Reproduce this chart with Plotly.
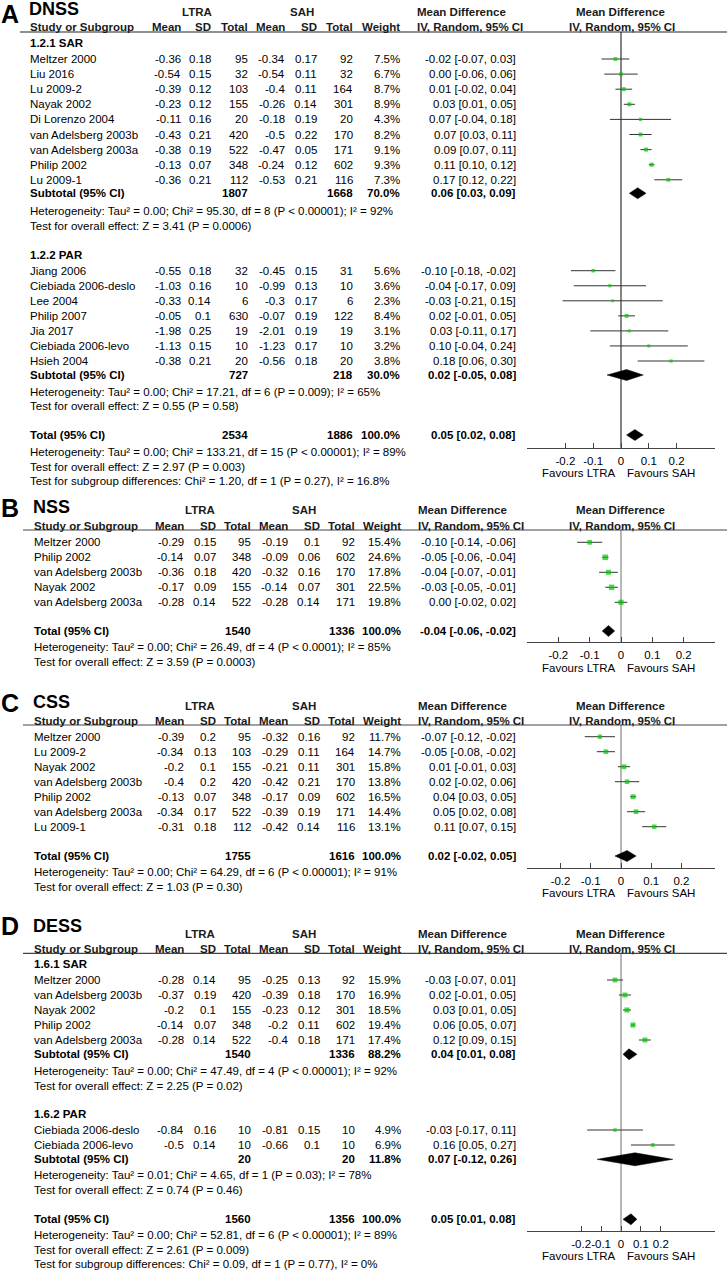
import plotly.graph_objects as go

# ======================= DATA =======================
# ---- Panel A : DNSS ----
A1_study = ["Meltzer 2000", "Liu 2016", "Lu 2009-2", "Nayak 2002", "Di Lorenzo 2004",
            "van Adelsberg 2003b", "van Adelsberg 2003a", "Philip 2002", "Lu 2009-1"]
A1_mean_l = [-0.36, -0.54, -0.39, -0.23, -0.11, -0.43, -0.38, -0.13, -0.36]
A1_sd_l = [0.18, 0.15, 0.12, 0.12, 0.16, 0.21, 0.19, 0.07, 0.21]
A1_n_l = [95, 32, 103, 155, 20, 420, 522, 348, 112]
A1_mean_s = [-0.34, -0.54, -0.4, -0.26, -0.18, -0.5, -0.47, -0.24, -0.53]
A1_sd_s = [0.17, 0.11, 0.11, 0.14, 0.19, 0.22, 0.05, 0.12, 0.21]
A1_n_s = [92, 32, 164, 301, 20, 170, 171, 602, 116]
A1_weight = [7.5, 6.7, 8.7, 8.9, 4.3, 8.2, 9.1, 9.3, 7.3]
A1_md = [-0.02, 0.00, 0.01, 0.03, 0.07, 0.07, 0.09, 0.11, 0.17]
A1_lo = [-0.07, -0.06, -0.02, 0.01, -0.04, 0.03, 0.07, 0.10, 0.12]
A1_hi = [0.03, 0.06, 0.04, 0.05, 0.18, 0.11, 0.11, 0.12, 0.22]
A1_sub = [1807, 1668, 70.0, 0.06, 0.03, 0.09]
A1_het = "Heterogeneity: Tau² = 0.00; Chi² = 95.30, df = 8 (P < 0.00001); I² = 92%"
A1_test = "Test for overall effect: Z = 3.41 (P = 0.0006)"

A2_study = ["Jiang 2006", "Ciebiada 2006-deslo", "Lee 2004", "Philip 2007", "Jia 2017",
            "Ciebiada 2006-levo", "Hsieh 2004"]
A2_mean_l = [-0.55, -1.03, -0.33, -0.05, -1.98, -1.13, -0.38]
A2_sd_l = [0.18, 0.16, 0.14, 0.1, 0.25, 0.15, 0.21]
A2_n_l = [32, 10, 6, 630, 19, 10, 20]
A2_mean_s = [-0.45, -0.99, -0.3, -0.07, -2.01, -1.23, -0.56]
A2_sd_s = [0.15, 0.13, 0.17, 0.19, 0.19, 0.17, 0.18]
A2_n_s = [31, 10, 6, 122, 19, 10, 20]
A2_weight = [5.6, 3.6, 2.3, 8.4, 3.1, 3.2, 3.8]
A2_md = [-0.10, -0.04, -0.03, 0.02, 0.03, 0.10, 0.18]
A2_lo = [-0.18, -0.17, -0.21, -0.01, -0.11, -0.04, 0.06]
A2_hi = [-0.02, 0.09, 0.15, 0.05, 0.17, 0.24, 0.30]
A2_sub = [727, 218, 30.0, 0.02, -0.05, 0.08]
A2_het = "Heterogeneity: Tau² = 0.00; Chi² = 17.21, df = 6 (P = 0.009); I² = 65%"
A2_test = "Test for overall effect: Z = 0.55 (P = 0.58)"

A_total = [2534, 1886, 100.0, 0.05, 0.02, 0.08]
A_het = "Heterogeneity: Tau² = 0.00; Chi² = 133.21, df = 15 (P < 0.00001); I² = 89%"
A_test = "Test for overall effect: Z = 2.97 (P = 0.003)"
A_subdiff = "Test for subgroup differences: Chi² = 1.20, df = 1 (P = 0.27), I² = 16.8%"

# ---- Panel B : NSS ----
B_study = ["Meltzer 2000", "Philip 2002", "van Adelsberg 2003b", "Nayak 2002", "van Adelsberg 2003a"]
B_mean_l = [-0.29, -0.14, -0.36, -0.17, -0.28]
B_sd_l = [0.15, 0.07, 0.18, 0.09, 0.14]
B_n_l = [95, 348, 420, 155, 522]
B_mean_s = [-0.19, -0.09, -0.32, -0.14, -0.28]
B_sd_s = [0.1, 0.06, 0.16, 0.07, 0.14]
B_n_s = [92, 602, 170, 301, 171]
B_weight = [15.4, 24.6, 17.8, 22.5, 19.8]
B_md = [-0.10, -0.05, -0.04, -0.03, 0.00]
B_lo = [-0.14, -0.06, -0.07, -0.05, -0.02]
B_hi = [-0.06, -0.04, -0.01, -0.01, 0.02]
B_total = [1540, 1336, 100.0, -0.04, -0.06, -0.02]
B_het = "Heterogeneity: Tau² = 0.00; Chi² = 26.49, df = 4 (P < 0.0001); I² = 85%"
B_test = "Test for overall effect: Z = 3.59 (P = 0.0003)"

# ---- Panel C : CSS ----
C_study = ["Meltzer 2000", "Lu 2009-2", "Nayak 2002", "van Adelsberg 2003b", "Philip 2002",
           "van Adelsberg 2003a", "Lu 2009-1"]
C_mean_l = [-0.39, -0.34, -0.2, -0.4, -0.13, -0.34, -0.31]
C_sd_l = [0.2, 0.13, 0.1, 0.2, 0.07, 0.17, 0.18]
C_n_l = [95, 103, 155, 420, 348, 522, 112]
C_mean_s = [-0.32, -0.29, -0.21, -0.42, -0.17, -0.39, -0.42]
C_sd_s = [0.16, 0.11, 0.11, 0.21, 0.09, 0.19, 0.14]
C_n_s = [92, 164, 301, 170, 602, 171, 116]
C_weight = [11.7, 14.7, 15.8, 13.8, 16.5, 14.4, 13.1]
C_md = [-0.07, -0.05, 0.01, 0.02, 0.04, 0.05, 0.11]
C_lo = [-0.12, -0.08, -0.01, -0.02, 0.03, 0.02, 0.07]
C_hi = [-0.02, -0.02, 0.03, 0.06, 0.05, 0.08, 0.15]
C_total = [1755, 1616, 100.0, 0.02, -0.02, 0.05]
C_het = "Heterogeneity: Tau² = 0.00; Chi² = 64.29, df = 6 (P < 0.00001); I² = 91%"
C_test = "Test for overall effect: Z = 1.03 (P = 0.30)"

# ---- Panel D : DESS ----
D1_study = ["Meltzer 2000", "van Adelsberg 2003b", "Nayak 2002", "Philip 2002", "van Adelsberg 2003a"]
D1_mean_l = [-0.28, -0.37, -0.2, -0.14, -0.28]
D1_sd_l = [0.14, 0.19, 0.1, 0.07, 0.14]
D1_n_l = [95, 420, 155, 348, 522]
D1_mean_s = [-0.25, -0.39, -0.23, -0.2, -0.4]
D1_sd_s = [0.13, 0.18, 0.12, 0.11, 0.18]
D1_n_s = [92, 170, 301, 602, 171]
D1_weight = [15.9, 16.9, 18.5, 19.4, 17.4]
D1_md = [-0.03, 0.02, 0.03, 0.06, 0.12]
D1_lo = [-0.07, -0.01, 0.01, 0.05, 0.09]
D1_hi = [0.01, 0.05, 0.05, 0.07, 0.15]
D1_sub = [1540, 1336, 88.2, 0.04, 0.01, 0.08]
D1_het = "Heterogeneity: Tau² = 0.00; Chi² = 47.49, df = 4 (P < 0.00001); I² = 92%"
D1_test = "Test for overall effect: Z = 2.25 (P = 0.02)"

D2_study = ["Ciebiada 2006-deslo", "Ciebiada 2006-levo"]
D2_mean_l = [-0.84, -0.5]
D2_sd_l = [0.16, 0.14]
D2_n_l = [10, 10]
D2_mean_s = [-0.81, -0.66]
D2_sd_s = [0.15, 0.1]
D2_n_s = [10, 10]
D2_weight = [4.9, 6.9]
D2_md = [-0.03, 0.16]
D2_lo = [-0.17, 0.05]
D2_hi = [0.11, 0.27]
D2_sub = [20, 20, 11.8, 0.07, -0.12, 0.26]
D2_het = "Heterogeneity: Tau² = 0.01; Chi² = 4.65, df = 1 (P = 0.03); I² = 78%"
D2_test = "Test for overall effect: Z = 0.74 (P = 0.46)"

D_total = [1560, 1356, 100.0, 0.05, 0.01, 0.08]
D_het = "Heterogeneity: Tau² = 0.00; Chi² = 52.81, df = 6 (P < 0.00001); I² = 89%"
D_test = "Test for overall effect: Z = 2.61 (P = 0.009)"
D_subdiff = "Test for subgroup differences: Chi² = 0.09, df = 1 (P = 0.77), I² = 0%"

TICK_VALS = [-0.2, -0.1, 0, 0.1, 0.2]
TICK_TEXT = ["-0.2", "-0.1", "0", "0.1", "0.2"]

# ======================= LAYOUT HELPERS =======================
W, H = 727, 1270
FONT = "Liberation Sans, Arial, Helvetica, sans-serif"
FS = 11.5
GREEN = "#00c800"
HDR = "#1a1a1a"

fig = go.Figure()
ann = []
shapes = []


def txt(x, y, s, anchor="left", bold=False, size=FS, color="#000", xref="paper", xshift=0):
    if bold:
        s = f"<b>{s}</b>"
    ann.append(dict(x=(x / W if xref == "paper" else x), xref=xref, y=y, yref="y", text=s,
                    showarrow=False, xanchor=anchor, yanchor="middle", xshift=xshift,
                    borderpad=0, font=dict(size=size, color=color, family=FONT)))


COLS_A = dict(study=29, ml=182, sl=212, nl=249, ms=286, ss=318, ns=354, w=401,
              mdh=416, md=517, lt=197, sa=302, line_x0=20)
COLS_O = dict(study=33, ml=185, sl=216.5, nl=252, ms=288.7, ss=320.5, ns=356, w=402,
              mdh=416.5, md=517, lt=200, sa=304, line_x0=23)

PLOT_L, PLOT_R = 527, 715


def mdfmt(md, lo, hi):
    return f"{md:.2f} [{lo:.2f}, {hi:.2f}]"


class Forest:
    def __init__(self, axis):
        self.axis = axis
        self.cx, self.cy = [], []
        self.px, self.py, self.ps = [], [], []
        self.diamonds = []


def header(c, letter, title, y_letter, y_title, y_grp, y_hdr, y_line, line_col):
    txt(0, y_letter, letter, bold=True, size=25)
    txt(c["study"] - 1, y_title, title, bold=True, size=18)
    txt(c["lt"], y_grp, "LTRA", "center", True, color=HDR)
    txt(c["sa"], y_grp, "SAH", "center", True, color=HDR)
    txt(c["mdh"], y_grp, "Mean Difference", "left", True, color=HDR)
    txt(620, y_grp, "Mean Difference", "center", True, color=HDR)
    txt(c["study"], y_hdr, "Study or Subgroup", "left", True, color=HDR)
    for key, lab in [("ml", "Mean"), ("sl", "SD"), ("nl", "Total"), ("ms", "Mean"),
                     ("ss", "SD"), ("ns", "Total"), ("w", "Weight")]:
        txt(c[key], y_hdr, lab, "right", True, color=HDR)
    txt(c["mdh"], y_hdr, "IV, Random, 95% CI", "left", True, color=HDR)
    txt(622, y_hdr, "IV, Random, 95% CI", "center", True, color=HDR)
    shapes.append(dict(type="line", xref="paper", yref="y", x0=c["line_x0"] / W, x1=1,
                       y0=y_line, y1=y_line, line=dict(color=line_col, width=1.2)))


def studies(c, f, ys, study, ml, sl, nl, ms, ss, ns, w, md, lo, hi):
    for i, y in enumerate(ys):
        txt(c["study"], y, study[i])
        txt(c["ml"], y, f"{ml[i]:g}", "right")
        txt(c["sl"], y, f"{sl[i]:g}", "right")
        txt(c["nl"], y, f"{nl[i]}", "right")
        txt(c["ms"], y, f"{ms[i]:g}", "right")
        txt(c["ss"], y, f"{ss[i]:g}", "right")
        txt(c["ns"], y, f"{ns[i]}", "right")
        txt(c["w"], y, f"{w[i]:.1f}%", "right")
        txt(c["md"], y, mdfmt(md[i], lo[i], hi[i]), "right")
        f.cx += [lo[i], hi[i], None]
        f.cy += [y, y, None]
        f.px.append(md[i])
        f.py.append(y)
        f.ps.append(1.6 + 0.8 * w[i] ** 0.5)


def summary(c, f, y, label, vals, half=5.5):
    nl, ns, w, md, lo, hi = vals
    txt(c["study"], y, label, bold=True)
    txt(c["nl"], y, f"{nl}", "right", True)
    txt(c["ns"], y, f"{ns}", "right", True)
    txt(c["w"], y, f"{w:.1f}%", "right", True)
    txt(c["md"], y, mdfmt(md, lo, hi), "right", True)
    f.diamonds.append((lo, md, hi, y, half))


def finish(f, y_top, y_axis, zero_col):
    ax = f.axis
    fig.add_trace(go.Scatter(x=[0, 0], y=[y_top, y_axis], mode="lines", xaxis=ax, yaxis="y",
                             line=dict(color=zero_col, width=1.2), hoverinfo="skip", showlegend=False))
    fig.add_trace(go.Scatter(x=f.cx, y=f.cy, mode="lines", xaxis=ax, yaxis="y",
                             line=dict(color="#333", width=1), hoverinfo="skip", showlegend=False))
    fig.add_trace(go.Scatter(x=f.px, y=f.py, mode="markers", xaxis=ax, yaxis="y",
                             marker=dict(symbol="square", size=f.ps, color=GREEN, line=dict(width=0)),
                             hoverinfo="skip", showlegend=False))
    for lo, md, hi, y, h in f.diamonds:
        fig.add_trace(go.Scatter(x=[lo, md, hi, md, lo], y=[y, y - h, y, y + h, y], mode="lines",
                                 fill="toself", fillcolor="#000", line=dict(color="#000", width=0.5),
                                 xaxis=ax, yaxis="y", hoverinfo="skip", showlegend=False))
    txt(0, y_axis + 25.7, "Favours LTRA", "right", xref=ax, xshift=-4)
    txt(0, y_axis + 25.7, "Favours SAH", "left", xref=ax, xshift=5)


def rows(start, n, step=15.05):
    return [start + step * i for i in range(n)]


# ======================= PANEL A =======================
c = COLS_A
fA = Forest("x")
header(c, "A", "DNSS", 14, 8.5, 12, 27, 32, "#222")
txt(c["study"], 42.7, "1.2.1 SAR", bold=True)
studies(c, fA, rows(59, 9, 15.1), A1_study, A1_mean_l, A1_sd_l, A1_n_l, A1_mean_s, A1_sd_s,
        A1_n_s, A1_weight, A1_md, A1_lo, A1_hi)
summary(c, fA, 193.3, "Subtotal (95% CI)", A1_sub)
txt(c["study"], 211, A1_het)
txt(c["study"], 226, A1_test)
txt(c["study"], 255, "1.2.2 PAR", bold=True)
studies(c, fA, rows(270.7, 7), A2_study, A2_mean_l, A2_sd_l, A2_n_l, A2_mean_s, A2_sd_s,
        A2_n_s, A2_weight, A2_md, A2_lo, A2_hi)
summary(c, fA, 375, "Subtotal (95% CI)", A2_sub)
txt(c["study"], 392.3, A2_het)
txt(c["study"], 406, A2_test)
summary(c, fA, 435, "Total (95% CI)", A_total)
txt(c["study"], 451.7, A_het)
txt(c["study"], 466.7, A_test)
txt(c["study"], 481, A_subdiff)
finish(fA, 32, 447.7, "#333")

# ======================= PANEL B =======================
c = COLS_O
fB = Forest("x2")
header(c, "B", "NSS", 508, 507, 509.5, 525.8, 530, "#444")
studies(c, fB, rows(542.3, 5, 15), B_study, B_mean_l, B_sd_l, B_n_l, B_mean_s, B_sd_s,
        B_n_s, B_weight, B_md, B_lo, B_hi)
summary(c, fB, 631, "Total (95% CI)", B_total)
txt(c["study"], 646.7, B_het)
txt(c["study"], 661.7, B_test)
finish(fB, 530, 642.3, "#888")

# ======================= PANEL C =======================
fC = Forest("x3")
header(c, "C", "CSS", 703, 701.7, 705.7, 720.5, 725, "#444")
studies(c, fC, rows(736.7, 7, 15), C_study, C_mean_l, C_sd_l, C_n_l, C_mean_s, C_sd_s,
        C_n_s, C_weight, C_md, C_lo, C_hi)
summary(c, fC, 856, "Total (95% CI)", C_total)
txt(c["study"], 871.7, C_het)
txt(c["study"], 887.3, C_test)
finish(fC, 725, 867.7, "#888")

# ======================= PANEL D =======================
fD = Forest("x4")
header(c, "D", "DESS", 926, 926, 934, 948.7, 953.3, "#444")
txt(c["study"], 964, "1.6.1 SAR", bold=True)
studies(c, fD, rows(980, 5, 15), D1_study, D1_mean_l, D1_sd_l, D1_n_l, D1_mean_s, D1_sd_s,
        D1_n_s, D1_weight, D1_md, D1_lo, D1_hi)
summary(c, fD, 1054.3, "Subtotal (95% CI)", D1_sub)
txt(c["study"], 1070.7, D1_het)
txt(c["study"], 1085.7, D1_test)
txt(c["study"], 1114, "1.6.2 PAR", bold=True)
studies(c, fD, rows(1130, 2, 15), D2_study, D2_mean_l, D2_sd_l, D2_n_l, D2_mean_s, D2_sd_s,
        D2_n_s, D2_weight, D2_md, D2_lo, D2_hi)
summary(c, fD, 1159.3, "Subtotal (95% CI)", D2_sub, half=6.5)
txt(c["study"], 1175, D2_het)
txt(c["study"], 1190, D2_test)
summary(c, fD, 1219.3, "Total (95% CI)", D_total)
txt(c["study"], 1235, D_het)
txt(c["study"], 1250, D_test)
txt(c["study"], 1264, D_subdiff)
finish(fD, 953.3, 1230.7, "#888")


# ======================= AXES =======================
def xaxis(rng, y_axis, overlay):
    d = dict(domain=[PLOT_L / W, PLOT_R / W], range=[-rng, rng], anchor="free",
             position=1 - y_axis / H, side="bottom", showline=True, linecolor="#444", linewidth=1.2,
             ticks="inside", ticklen=5, tickwidth=1.2, tickcolor="#444", tickvals=TICK_VALS,
             ticktext=TICK_TEXT, tickangle=0, tickfont=dict(size=FS, color="#000", family=FONT),
             showgrid=False, zeroline=False, fixedrange=True, ticklabelstandoff=2)
    if overlay:
        d["overlaying"] = "x"
    return d


fig.update_layout(
    width=W, height=H, margin=dict(l=0, r=0, t=0, b=0, pad=0),
    paper_bgcolor="white", plot_bgcolor="rgba(0,0,0,0)",
    font=dict(family=FONT, size=FS, color="#000"),
    showlegend=False,
    xaxis=xaxis(0.338, 447.7, False),
    xaxis2=xaxis(0.300, 642.3, True),
    xaxis3=xaxis(0.311, 867.7, True),
    xaxis4=xaxis(0.472, 1230.7, True),
    yaxis=dict(domain=[0, 1], range=[H, 0], visible=False, fixedrange=True),
    annotations=ann, shapes=shapes,
)

fig.write_html("out.html", config=dict(displayModeBar=False),
               post_script="document.body.style.margin='0';document.body.style.overflow='hidden';")
